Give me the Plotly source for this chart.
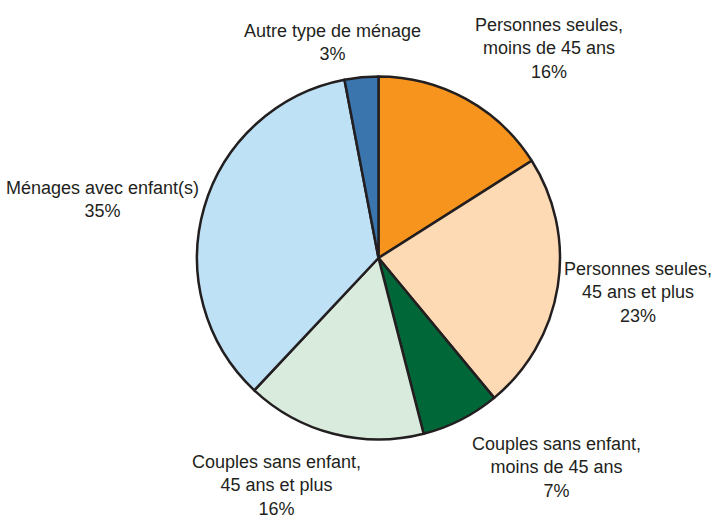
import plotly.graph_objects as go

# Household types, clockwise from 12 o'clock
labels = [
    "Personnes seules,<br>moins de 45 ans",
    "Personnes seules,<br>45 ans et plus",
    "Couples sans enfant,<br>moins de 45 ans",
    "Couples sans enfant,<br>45 ans et plus",
    "Ménages avec enfant(s)",
    "Autre type de ménage",
]
shares = [16, 23, 7, 16, 35, 3]
colors = ["#F7941D", "#FDDAB3", "#006838", "#D8EBDD", "#BFE1F6", "#3A75AE"]

# label block centres in pixels (x from left, y from top)
label_pos = [(549, 48), (638, 292), (556, 467), (276, 485), (103, 199), (332, 42)]

W, H = 717, 520
CX, CY, R = 378.5, 258, 181.5
FONT = "Liberation Sans, Arial, sans-serif"

fig = go.Figure(go.Pie(
    labels=labels,
    values=shares,
    sort=False,
    direction="clockwise",
    rotation=0,
    marker=dict(colors=colors, line=dict(color="#231F20", width=2.5)),
    textinfo="none",
    hoverinfo="label+percent",
    showlegend=False,
    domain=dict(
        x=[(CX - R) / W, (CX + R) / W],
        y=[(H - CY - R) / H, (H - CY + R) / H],
    ),
))

annotations = []
for lab, val, (px_, py_) in zip(labels, shares, label_pos):
    annotations.append(dict(
        text=f"{lab}<br>{val}%",
        x=px_ / W, y=1 - py_ / H,
        xref="paper", yref="paper",
        xanchor="center", yanchor="middle",
        align="center", showarrow=False,
        font=dict(family=FONT, size=18, color="#231F20"),
    ))

fig.update_layout(
    width=W, height=H,
    margin=dict(l=0, r=0, t=0, b=0),
    paper_bgcolor="white",
    plot_bgcolor="white",
    annotations=annotations,
)

# drop the browser's default body margin so the figure sits at the top-left
fig.write_html(
    "out.html",
    config={"displayModeBar": False},
    post_script="document.body.style.margin='0';",
)
